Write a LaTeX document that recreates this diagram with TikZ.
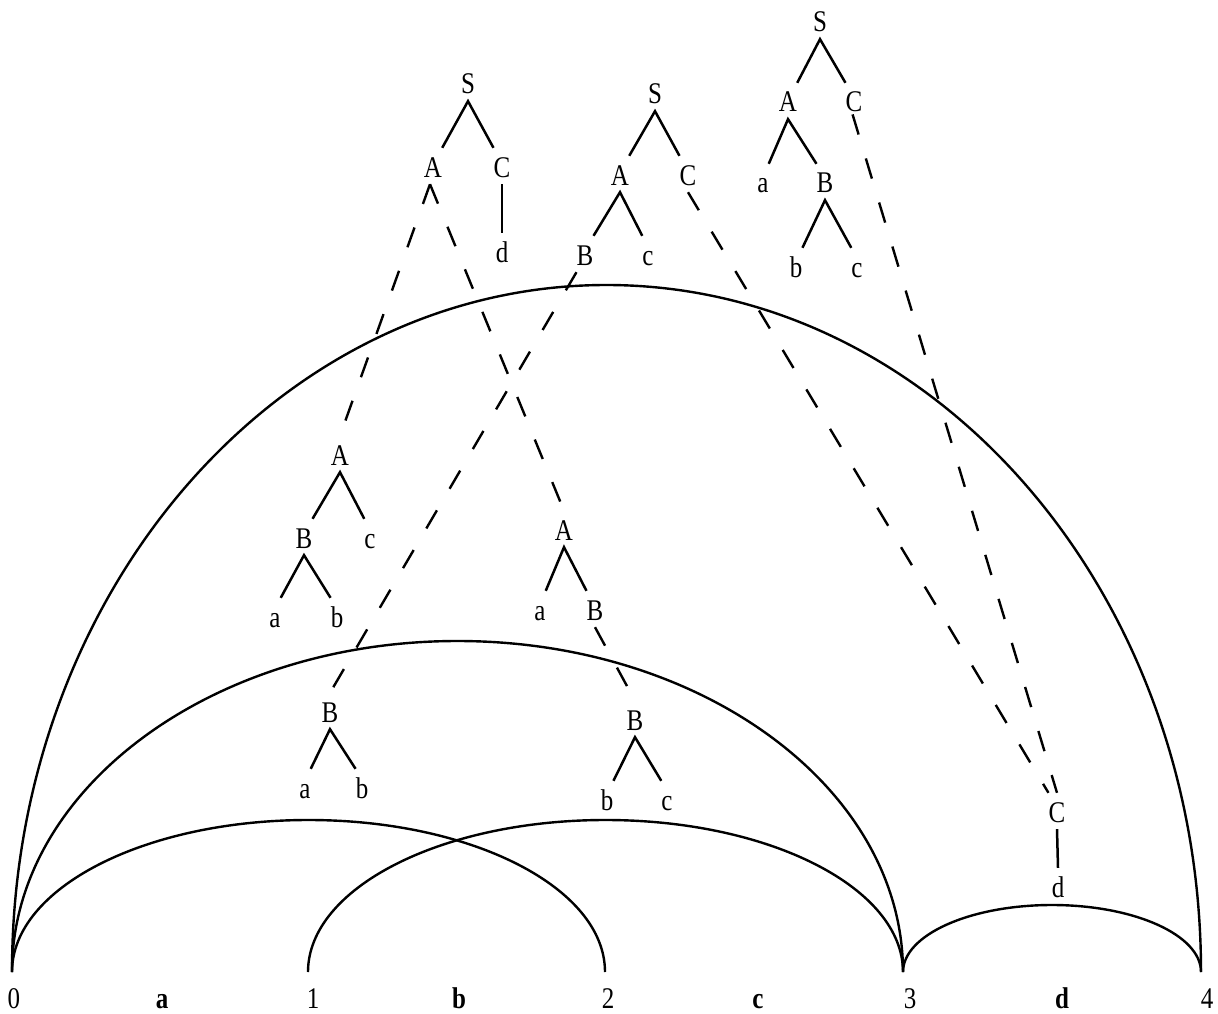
\documentclass[tikz,border=0pt]{standalone}
\usepackage{fontspec}
\usepackage{graphicx}
\setmainfont{Liberation Serif}
\newcommand\vstretch[1]{\scalebox{1}[1.2]{#1}}
\tikzset{
  lbl/.style={font=\fontsize{25}{30}\selectfont, text height=22pt, text depth=0pt,
    inner xsep=0pt, inner ysep=7pt, anchor=base},
  axislbl/.style={font=\fontsize{25}{30}\selectfont, text depth=0pt,
    inner sep=0.5pt, anchor=base},
  edge/.style={line width=2.5pt},
  dsh/.style={line width=2.4pt, dash pattern=on 21pt off 25pt},
  arcline/.style={line width=2.4pt}
}
\begin{document}
\begin{tikzpicture}[x=1pt,y=-1pt]
\useasboundingbox (0,0) rectangle (1218,1014);
% baseline points
\coordinate (p0) at (12,972);
\coordinate (p1) at (308,972);
\coordinate (p3) at (903,972);
% arcs
\draw[arcline] (p0) arc[start angle=180,end angle=360,x radius=594.5,y radius=687];
\draw[arcline] (p0) arc[start angle=180,end angle=360,x radius=445.5,y radius=331];
\draw[arcline] (p0) arc[start angle=180,end angle=360,x radius=296.5,y radius=152];
\draw[arcline] (p1) arc[start angle=180,end angle=360,x radius=297.5,y radius=152];
\draw[arcline] (p3) arc[start angle=180,end angle=360,x radius=149,y radius=67];
% bottom labels
\node[axislbl] (n0) at (14,1008) {\vstretch{0}};
\node[axislbl] (wa) at (162,1008) {\vstretch{\textbf{a}}};
\node[axislbl] (n1) at (313,1008) {\vstretch{1}};
\node[axislbl] (wb) at (459,1008) {\vstretch{\textbf{b}}};
\node[axislbl] (n2) at (608,1008) {\vstretch{2}};
\node[axislbl] (wc) at (758,1008) {\vstretch{\textbf{c}}};
\node[axislbl] (n3) at (910,1008) {\vstretch{3}};
\node[axislbl] (wd) at (1062,1008) {\vstretch{\textbf{d}}};
\node[axislbl] (n4) at (1207,1008) {\vstretch{4}};
% tree 1
\node[lbl] (S1) at (468,94) {\vstretch{S}};
\node[lbl] (A1) at (433,177) {\vstretch{A}};
\node[lbl] (C1) at (502,177) {\vstretch{C}};
\node[lbl] (d1) at (502,262) {\vstretch{d}};
% tree 2
\node[lbl] (S2) at (655,104) {\vstretch{S}};
\node[lbl] (A2) at (620,185) {\vstretch{A}};
\node[lbl] (C2) at (688,185) {\vstretch{C}};
\node[lbl] (B2) at (585,265) {\vstretch{B}};
\node[lbl] (c2) at (648,265) {\vstretch{c}};
% tree 3
\node[lbl] (S3) at (820,32) {\vstretch{S}};
\node[lbl] (A3) at (788,112) {\vstretch{A}};
\node[lbl] (C3) at (854,112) {\vstretch{C}};
\node[lbl] (a3) at (763,193) {\vstretch{a}};
\node[lbl] (B3) at (825,193) {\vstretch{B}};
\node[lbl] (b3) at (796,277) {\vstretch{b}};
\node[lbl] (c3) at (857,277) {\vstretch{c}};
% middle left
\node[lbl] (Aml) at (340,465) {\vstretch{A}};
\node[lbl] (Bml) at (304,548) {\vstretch{B}};
\node[lbl] (cml) at (370,548) {\vstretch{c}};
\node[lbl] (aml) at (275,627) {\vstretch{a}};
\node[lbl] (bml) at (337,627) {\vstretch{b}};
% middle right
\node[lbl] (Amr) at (564,540) {\vstretch{A}};
\node[lbl] (amr) at (540,620) {\vstretch{a}};
\node[lbl] (Bmr) at (595,620) {\vstretch{B}};
% lower left
\node[lbl] (Bll) at (330,722) {\vstretch{B}};
\node[lbl] (all) at (305,798) {\vstretch{a}};
\node[lbl] (bll) at (362,798) {\vstretch{b}};
% lower middle
\node[lbl] (Blm) at (635,730) {\vstretch{B}};
\node[lbl] (blm) at (607,810) {\vstretch{b}};
\node[lbl] (clm) at (667,810) {\vstretch{c}};
% right
\node[lbl] (Cr) at (1057,822) {\vstretch{C}};
\node[lbl] (dr) at (1058,897) {\vstretch{d}};
% solid tree edges
\draw[edge] (A1.north east) -- (S1.south) -- (C1.north west);
\draw[edge] (C1.south) -- (d1.north);
\draw[edge] (A2.north east) -- (S2.south) -- (C2.north west);
\draw[edge] (B2.north east) -- (A2.south) -- (c2.north west);
\draw[edge] (A3.north east) -- (S3.south) -- (C3.north west);
\draw[edge] (a3.north east) -- (A3.south) -- (B3.north west);
\draw[edge] (b3.north east) -- (B3.south) -- (c3.north west);
\draw[edge] (Bml.north east) -- (Aml.south) -- (cml.north west);
\draw[edge] (aml.north east) -- (Bml.south) -- (bml.north west);
\draw[edge] (amr.north east) -- (Amr.south) -- (Bmr.north west);
\draw[edge] (all.north east) -- (Bll.south) -- (bll.north west);
\draw[edge] (blm.north east) -- (Blm.south) -- (clm.north west);
\draw[edge] (Cr.south) -- (dr.north);
% dashed links
\draw[dsh] ([xshift=-3pt]A1.south) -- (Aml.north);
\draw[dsh] ([xshift=-3pt]A1.south) -- (Amr.north);
\draw[dsh] (B2.south west) -- (Bll.north);
\draw[dsh] (C2.south) -- (Cr.north west);
\draw[dsh, shorten <=-5pt] (C3.south) -- (Cr.north);
\draw[dsh] (Bmr.south) -- (Blm.north);
\end{tikzpicture}
\end{document}
